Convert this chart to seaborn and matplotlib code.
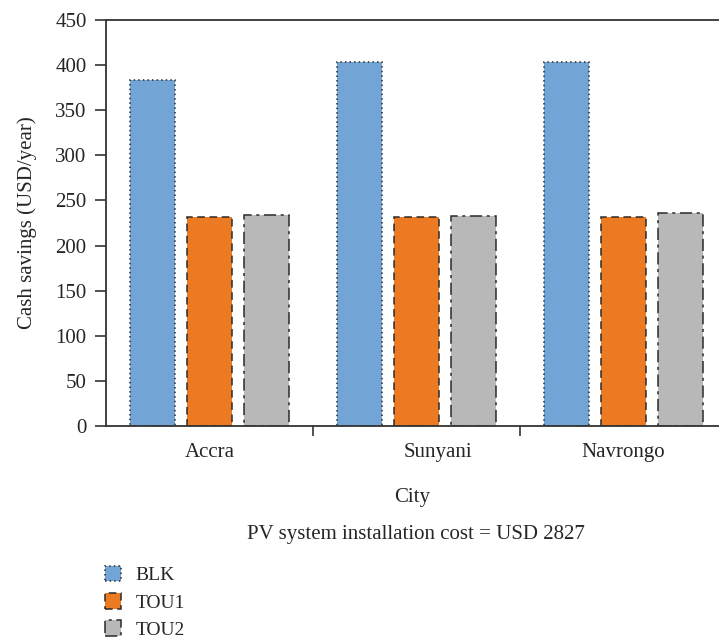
import matplotlib
matplotlib.use("Agg")
import matplotlib.pyplot as plt
import matplotlib.transforms as mtransforms
from matplotlib.patches import Patch
import seaborn as sns
import pandas as pd

cities = ["Accra", "Sunyani", "Navrongo"]
tariffs = ["BLK", "TOU1", "TOU2"]
blk = [384, 404, 404]
tou1 = [232, 232, 232]
tou2 = [234, 232.5, 236]
colors = ["#72A5D5", "#EC7A22", "#B8B8B8"]
edge_styles = [(0, (1, 2)), (0, (5, 3)), (0, (8, 3, 2, 3))]
yticks = [0, 50, 100, 150, 200, 250, 300, 350, 400, 450]

rows = []
for t, vals in zip(tariffs, [blk, tou1, tou2]):
    for c, v in zip(cities, vals):
        rows.append({"City": c, "Tariff": t, "Savings": v})
df = pd.DataFrame(rows)

sns.set_style("white")
plt.rcParams["font.family"] = ["Liberation Serif", "DejaVu Serif"]

FS = 15

fig = plt.figure(figsize=(7.19, 6.41), dpi=100)
ax = fig.add_axes([106 / 719, 1 - 426 / 641, 1 - 106 / 719, (426 - 20) / 641])

sns.barplot(data=df, x="City", y="Savings", hue="Tariff", order=cities,
            hue_order=tariffs, palette=colors, width=0.826, gap=0.21,
            saturation=1, ax=ax, legend=False)

for cont, ls in zip(ax.containers, edge_styles):
    for bar in cont:
        bar.set_edgecolor("#2b2b2b")
        bar.set_linewidth(1.1)
        bar.set_linestyle(ls)

ax.set_xlim(-0.5, -0.5 + (719 - 106) / 207)
ax.set_ylim(0, 450)
ax.set_yticks(yticks)
ax.set_xticks([0, 1, 2])
ax.set_xticklabels(cities)
ax.set_xticks([0.5, 1.5], minor=True)
ax.tick_params(axis="x", which="major", length=0, pad=12, labelsize=FS)
ax.tick_params(axis="x", which="minor", length=7, width=1.2, direction="out",
               color="#333333", bottom=True)
ax.tick_params(axis="y", length=8, width=1.2, direction="out", color="#333333",
               labelsize=FS, pad=6, left=True)
# Sunyani label sits slightly to the right in the reference
lbl = ax.get_xticklabels()[1]
lbl.set_transform(lbl.get_transform() + mtransforms.ScaledTranslation(0.21, 0, fig.dpi_scale_trans))

for side in ["left", "bottom", "top"]:
    ax.spines[side].set_visible(True)
    ax.spines[side].set_color("#333333")
    ax.spines[side].set_linewidth(1.3)
ax.spines["right"].set_visible(False)

ax.set_ylabel("Cash savings (USD/year)", fontsize=FS, labelpad=13)
ax.set_xlabel("City", fontsize=FS, labelpad=19)

fig.text(416 / 719, 1 - 534 / 641, "PV system installation cost = USD 2827",
         ha="center", va="center", fontsize=FS)

handles = [Patch(facecolor=c, edgecolor="#2b2b2b", linestyle=ls, linewidth=1.1, label=t)
           for c, ls, t in zip(colors, edge_styles, tariffs)]
fig.legend(handles=handles, loc="upper left", bbox_to_anchor=(97 / 719, 1 - 558 / 641),
           frameon=False, fontsize=14, handlelength=0.85, handleheight=0.85,
           handletextpad=0.75, labelspacing=0.45, borderaxespad=0)

fig.savefig("out.png", dpi=100)
